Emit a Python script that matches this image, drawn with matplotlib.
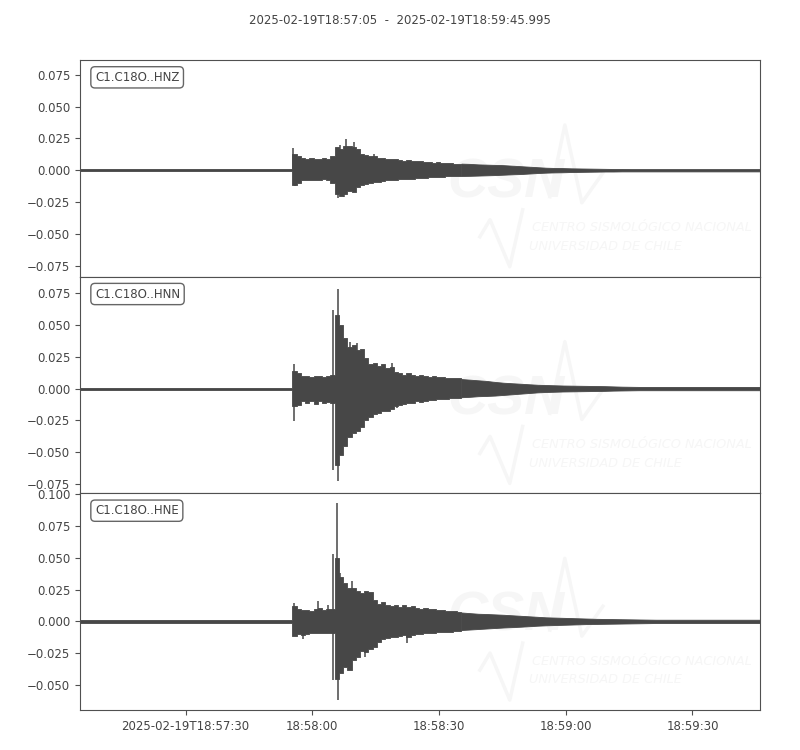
import numpy as np
import matplotlib
matplotlib.use("Agg")
import matplotlib.pyplot as plt
from matplotlib.ticker import MultipleLocator, FuncFormatter

title = "2025-02-19T18:57:05  -  2025-02-19T18:59:45.995"
duration = 160.995  # seconds after 18:57:05

channels = ["C1.C18O..HNZ", "C1.C18O..HNN", "C1.C18O..HNE"]

# x ticks (seconds after start) and their labels
tick_sec = [25, 55, 85, 115, 145]
tick_labels = ["2025-02-19T18:57:30", "18:58:00", "18:58:30", "18:59:00", "18:59:30"]

# envelope sampling: noise before the event, 1 s bins through the strong motion, 2 s bins in the coda
t_noise = [0.0]
t_fine = list(np.arange(50.3, 90.0, 1.0))   # 40 bins
t_coda = list(np.arange(90.3, 161.0, 2.0))  # 36 bins

# pre-event noise half-width (g)
noise = [0.0007, 0.0008, 0.0010]

# HNZ envelope
hnz_up = [0.013, 0.011, 0.0095, 0.009, 0.0095, 0.009, 0.0085, 0.0095, 0.009, 0.011,
          0.018, 0.017, 0.019, 0.019, 0.018, 0.017, 0.013, 0.012, 0.011, 0.011,
          0.010, 0.0095, 0.009, 0.0085, 0.009, 0.008, 0.0075, 0.008, 0.007, 0.0075,
          0.007, 0.0065, 0.0068, 0.006, 0.0062, 0.0058, 0.0055, 0.0058, 0.005, 0.0052]
hnz_lo = [0.0115, 0.010, 0.008, 0.0075, 0.008, 0.0075, 0.008, 0.007, 0.0078, 0.010,
          0.019, 0.020, 0.019, 0.016, 0.017, 0.013, 0.012, 0.011, 0.010, 0.0095,
          0.009, 0.0085, 0.008, 0.0078, 0.0075, 0.007, 0.007, 0.0068, 0.0065, 0.006,
          0.006, 0.0058, 0.0055, 0.0055, 0.005, 0.005, 0.0048, 0.0048, 0.0045, 0.0045]
hnz_coda_up = [0.0052, 0.005, 0.0046, 0.0044, 0.0042, 0.004, 0.0036, 0.0032, 0.0028, 0.0024,
               0.002, 0.0018, 0.0017, 0.0015, 0.0014, 0.0013, 0.0012, 0.0011, 0.001, 0.001,
               0.0009, 0.0009, 0.0009, 0.0009, 0.0009, 0.0009, 0.0009, 0.0009, 0.0009, 0.0009,
               0.0009, 0.0009, 0.0009, 0.0009, 0.0009, 0.0009]
hnz_coda_lo = [0.0045, 0.0044, 0.0042, 0.004, 0.0038, 0.0035, 0.0032, 0.003, 0.0026, 0.0022,
               0.0019, 0.0017, 0.0016, 0.0014, 0.0013, 0.0012, 0.0011, 0.001, 0.001, 0.0009,
               0.0009, 0.0009, 0.0009, 0.0009, 0.0009, 0.0009, 0.0009, 0.0009, 0.0009, 0.0009,
               0.0009, 0.0009, 0.0009, 0.0009, 0.0009, 0.0009]
hnz_spike_t = [50.5, 50.8, 61.2, 61.6, 62.5, 63.0, 64.9, 69.5]
hnz_spike_v = [0.0175, -0.0125, -0.0215, 0.0198, -0.021, 0.0245, 0.022, 0.0125]

# HNN envelope
hnn_up = [0.014, 0.012, 0.0095, 0.010, 0.009, 0.0095, 0.010, 0.009, 0.0098, 0.011,
          0.058, 0.050, 0.040, 0.033, 0.034, 0.030, 0.031, 0.024, 0.019, 0.020,
          0.018, 0.019, 0.016, 0.017, 0.013, 0.012, 0.011, 0.012, 0.0105, 0.010,
          0.011, 0.0095, 0.009, 0.0095, 0.0088, 0.009, 0.0085, 0.0085, 0.008, 0.0082]
hnn_lo = [0.014, 0.013, 0.010, 0.011, 0.010, 0.012, 0.010, 0.011, 0.0105, 0.011,
          0.060, 0.052, 0.045, 0.038, 0.035, 0.033, 0.030, 0.025, 0.022, 0.020,
          0.019, 0.018, 0.018, 0.016, 0.014, 0.013, 0.012, 0.011, 0.011, 0.010,
          0.0105, 0.0095, 0.009, 0.009, 0.0085, 0.0085, 0.008, 0.0078, 0.0075, 0.0072]
hnn_coda_up = [0.0075, 0.007, 0.0065, 0.006, 0.0052, 0.0046, 0.0042, 0.0038, 0.0034, 0.003,
               0.0028, 0.0026, 0.0024, 0.0023, 0.0022, 0.0021, 0.002, 0.0019, 0.0017, 0.0015,
               0.0014, 0.0013, 0.0013, 0.0013, 0.0013, 0.0013, 0.0013, 0.0013, 0.0013, 0.0013,
               0.0013, 0.0013, 0.0013, 0.0013, 0.0013, 0.0013]
hnn_coda_lo = [0.0068, 0.0065, 0.006, 0.0058, 0.0055, 0.005, 0.0045, 0.004, 0.0035, 0.003,
               0.0027, 0.0025, 0.0023, 0.0022, 0.0021, 0.002, 0.0019, 0.0018, 0.0016, 0.0015,
               0.0014, 0.0013, 0.0013, 0.0013, 0.0013, 0.0013, 0.0013, 0.0013, 0.0013, 0.0013,
               0.0013, 0.0013, 0.0013, 0.0013, 0.0013, 0.0013]
hnn_spike_t = [50.6, 50.7, 60.0, 60.0, 61.0, 61.1, 63.9, 65.6, 73.9, 75.0]
hnn_spike_v = [0.019, -0.0257, 0.062, -0.064, 0.0786, -0.073, 0.037, 0.036, 0.020, -0.015]

# HNE envelope
hne_up = [0.012, 0.010, 0.0088, 0.009, 0.0085, 0.0095, 0.0105, 0.009, 0.010, 0.0095,
          0.050, 0.035, 0.030, 0.026, 0.026, 0.024, 0.022, 0.024, 0.023, 0.017,
          0.014, 0.015, 0.013, 0.012, 0.0125, 0.011, 0.0125, 0.011, 0.012, 0.0105,
          0.010, 0.0105, 0.0095, 0.0098, 0.009, 0.0088, 0.0085, 0.008, 0.0078, 0.0075]
hne_lo = [0.0115, 0.010, 0.011, 0.010, 0.0095, 0.009, 0.0095, 0.009, 0.0095, 0.0095,
          0.045, 0.041, 0.036, 0.038, 0.030, 0.028, 0.023, 0.024, 0.022, 0.020,
          0.016, 0.014, 0.013, 0.012, 0.0125, 0.0115, 0.011, 0.012, 0.0105, 0.010,
          0.0098, 0.0095, 0.009, 0.009, 0.0085, 0.0085, 0.008, 0.008, 0.0075, 0.0072]
hne_coda_up = [0.007, 0.0065, 0.006, 0.0058, 0.0055, 0.0052, 0.0048, 0.0044, 0.004, 0.0036,
               0.0032, 0.003, 0.0028, 0.0026, 0.0024, 0.0022, 0.002, 0.0019, 0.0018, 0.0017,
               0.0016, 0.0015, 0.0014, 0.0013, 0.0013, 0.0013, 0.0013, 0.0013, 0.0013, 0.0013,
               0.0013, 0.0013, 0.0013, 0.0013, 0.0013, 0.0013]
hne_coda_lo = [0.0068, 0.0064, 0.006, 0.0056, 0.0052, 0.0048, 0.0045, 0.0042, 0.0038, 0.0034,
               0.0031, 0.0029, 0.0027, 0.0025, 0.0023, 0.0021, 0.002, 0.0019, 0.0018, 0.0017,
               0.0016, 0.0015, 0.0014, 0.0013, 0.0013, 0.0013, 0.0013, 0.0013, 0.0013, 0.0013,
               0.0013, 0.0013, 0.0013, 0.0013, 0.0013, 0.0013]
hne_spike_t = [50.7, 52.9, 56.4, 58.8, 59.9, 59.9, 60.9, 61.0, 61.6, 64.4, 67.5, 77.4]
hne_spike_v = [0.0144, -0.014, 0.016, 0.0126, 0.053, -0.046, 0.093, -0.062, 0.038, 0.032, -0.028, -0.017]

fine_up = [hnz_up, hnn_up, hne_up]
fine_lo = [hnz_lo, hnn_lo, hne_lo]
coda_up = [hnz_coda_up, hnn_coda_up, hne_coda_up]
coda_lo = [hnz_coda_lo, hnn_coda_lo, hne_coda_lo]
spike_ts = [hnz_spike_t, hnn_spike_t, hne_spike_t]
spike_vs = [hnz_spike_v, hnn_spike_v, hne_spike_v]

trace_color = "#474747"
text_color = "#444444"
mark_color = "#f6f6f6"


def fmt_tick(v, pos):
    return f"{v:.3f}".replace("-", "\u2212")


# equal scale for all traces, centred on each trace's own range
tops, bots = [], []
for i in range(3):
    tops.append(max(max(fine_up[i]), max(spike_vs[i])))
    bots.append(min(-max(fine_lo[i]), min(spike_vs[i])))
half = 1.1 * max(tp - bt for tp, bt in zip(tops, bots)) / 2

fig, axes = plt.subplots(3, 1, figsize=(8, 7.5), dpi=100, sharex=True)
fig.subplots_adjust(left=0.1, right=0.95, top=0.92, bottom=0.0533, hspace=0)

for i, ax in enumerate(axes):
    # faint CSN watermark
    ax.text(0.627, 0.43, "CSN", transform=ax.transAxes, ha="center", va="center",
            fontsize=40, fontweight="bold", fontstyle="italic", family="Liberation Sans",
            color=mark_color, zorder=0)
    ax.plot([0.588, 0.603, 0.632, 0.651], [0.184, 0.263, 0.046, 0.309],
            transform=ax.transAxes, color=mark_color, lw=2.5, zorder=0)
    ax.plot([0.691, 0.713, 0.738, 0.769], [0.369, 0.700, 0.341, 0.479],
            transform=ax.transAxes, color=mark_color, lw=2.5, zorder=0)
    ax.text(0.664, 0.225, "CENTRO SISMOLÓGICO NACIONAL", transform=ax.transAxes,
            fontsize=9.3, fontstyle="italic", color=mark_color, va="center", zorder=0)
    ax.text(0.661, 0.14, "UNIVERSIDAD DE CHILE", transform=ax.transAxes,
            fontsize=9.3, fontstyle="italic", color=mark_color, va="center", zorder=0)

    # pre-event noise + strong motion as 1 s bins
    t_a = np.array(t_noise + t_fine + [t_coda[0]])
    up_a = np.array([noise[i]] + fine_up[i] + [fine_up[i][-1]])
    lo_a = np.array([noise[i]] + fine_lo[i] + [fine_lo[i][-1]])
    ax.fill_between(t_a, -lo_a, up_a, step="post", color=trace_color, lw=0.6, zorder=2)

    # coda tapers off smoothly
    t_b = np.array(t_coda + [duration])
    up_b = np.array(coda_up[i] + [coda_up[i][-1]])
    lo_b = np.array(coda_lo[i] + [coda_lo[i][-1]])
    ax.fill_between(t_b, -lo_b, up_b, color=trace_color, lw=0.6, zorder=2)

    ax.vlines(spike_ts[i], 0, spike_vs[i], color=trace_color, lw=1.1, zorder=2)

    mid = (tops[i] + bots[i]) / 2
    ax.set_ylim(mid - half, mid + half)
    ax.set_xlim(0, duration)
    ax.yaxis.set_major_locator(MultipleLocator(0.025))
    ax.yaxis.set_major_formatter(FuncFormatter(fmt_tick))

    ax.text(0.022, 0.95, channels[i], transform=ax.transAxes, va="top", ha="left",
            fontsize=8.5, color=text_color, zorder=5,
            bbox=dict(boxstyle="round,pad=0.35", fc="white", ec="#666666", lw=1))

    for sp in ax.spines.values():
        sp.set_color("#505050")
    ax.tick_params(axis="y", labelsize=8.5, colors="#505050", labelcolor=text_color)
    if i < 2:
        ax.tick_params(axis="x", bottom=False, labelbottom=False)

axes[-1].set_xticks(tick_sec)
axes[-1].set_xticklabels(tick_labels)
axes[-1].tick_params(axis="x", labelsize=8.5, colors="#505050", labelcolor=text_color)

fig.text(0.5, 0.973, title, ha="center", va="center", fontsize=8.5, color=text_color)

fig.savefig("out.png", dpi=100)
